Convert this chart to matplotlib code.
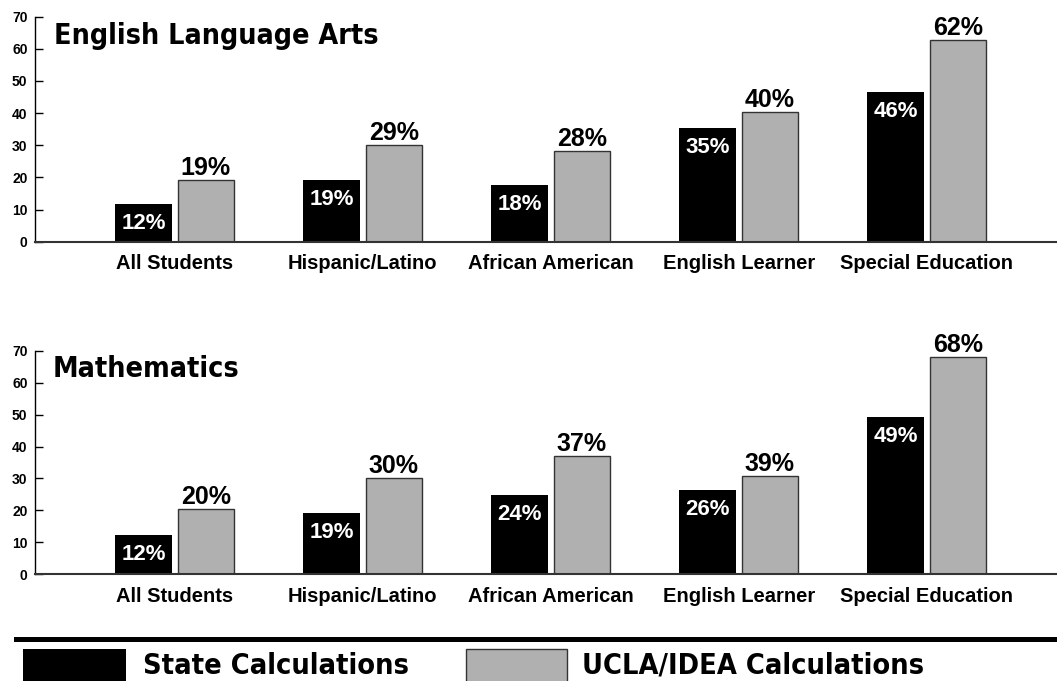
import numpy as np
import matplotlib
matplotlib.use('Agg')
import matplotlib.pyplot as plt
from matplotlib import font_manager
from matplotlib.lines import Line2D
from matplotlib.patches import Rectangle

# data
categories = ['All Students', 'Hispanic/Latino', 'African American',
              'English Learner', 'Special Education']

ela_state = [11.8, 19.2, 17.7, 35.5, 46.5]
ela_ucla = [19.2, 30.0, 28.3, 40.5, 62.6]
ela_state_labels = ['12%', '19%', '18%', '35%', '46%']
ela_ucla_labels = ['19%', '29%', '28%', '40%', '62%']

math_state = [12.3, 19.2, 24.8, 26.4, 49.3]
math_ucla = [20.3, 30.2, 36.9, 30.8, 68.0]
math_state_labels = ['12%', '19%', '24%', '26%', '49%']
math_ucla_labels = ['20%', '30%', '37%', '39%', '68%']

y_ticks = [0, 10, 20, 30, 40, 50, 60, 70]

STATE_COLOR = '#000000'
UCLA_COLOR = '#b0b0b0'
EDGE_COLOR = '#333333'
BOLD = ['Liberation Sans', 'DejaVu Sans']

W, H = 1057, 681

# condensed bold face for the big headings, if the system has one
cond = font_manager.FontProperties(family='DejaVu Sans', weight='bold',
                                   stretch='condensed')
cond_file = font_manager.findfont(cond, fallback_to_default=False)
if 'Condensed' in cond_file:
    HEAD = dict(family='DejaVu Sans', fontstretch='condensed')
    title_size, legend_size = 20.5, 20.7
else:
    HEAD = dict(family=BOLD)
    title_size, legend_size = 20.5, 20.5


def draw_panel(ax, state, ucla, state_labels, ucla_labels):
    x = np.arange(len(categories))
    ax.bar(x - 0.166, state, width=0.30, color=STATE_COLOR, linewidth=0)
    ax.bar(x + 0.166, ucla, width=0.30, color=UCLA_COLOR,
           edgecolor=EDGE_COLOR, linewidth=1.0)

    for i in range(len(categories)):
        # white value inside black bar
        ax.annotate(state_labels[i], (x[i] - 0.166, state[i]),
                    xytext=(0, -18), textcoords='offset points',
                    ha='center', va='baseline', color='white',
                    fontsize=16, fontweight='bold', family=BOLD)
        # black value on top of grey bar
        ax.annotate(ucla_labels[i], (x[i] + 0.166, ucla[i]),
                    xytext=(0, 3.6), textcoords='offset points',
                    ha='center', va='baseline', color='black',
                    fontsize=18, fontweight='bold', family=BOLD)

    ax.set_xlim(-0.745, 4.687)
    ax.set_ylim(0, 70)
    ax.set_yticks(y_ticks)
    ax.set_xticks(x)
    ax.set_xticklabels(categories, fontsize=14.5, fontweight='bold',
                       family=BOLD)
    for lab in ax.get_yticklabels():
        lab.set_fontsize(10)
        lab.set_fontweight('bold')
        lab.set_family(BOLD)

    ax.tick_params(axis='y', direction='in', length=6, width=1, pad=5)
    ax.tick_params(axis='x', length=0, pad=9)
    ax.spines['top'].set_visible(False)
    ax.spines['right'].set_visible(False)
    ax.spines['left'].set_linewidth(1.0)
    ax.spines['bottom'].set_color(EDGE_COLOR)
    ax.spines['bottom'].set_linewidth(1.5)


fig = plt.figure(figsize=(W / 100, H / 100), dpi=100)

ax1 = fig.add_axes([34.5 / W, 1 - 241.7 / H, (1056 - 34.5) / W, 225.0 / H])
draw_panel(ax1, ela_state, ela_ucla, ela_state_labels, ela_ucla_labels)
fig.text(54 / W, 1 - 44 / H, 'English Language Arts', fontsize=title_size,
         fontweight='bold', va='baseline', **HEAD)

ax2 = fig.add_axes([34.5 / W, 1 - 574.3 / H, (1056 - 34.5) / W, 223.6 / H])
draw_panel(ax2, math_state, math_ucla, math_state_labels, math_ucla_labels)
fig.text(53 / W, 1 - 377 / H, 'Mathematics', fontsize=title_size,
         fontweight='bold', va='baseline', **HEAD)

# legend strip at the bottom
fig.add_artist(Line2D([16 / W, 1.0], [1 - 639.2 / H, 1 - 639.2 / H],
                      color='black', linewidth=3.6,
                      transform=fig.transFigure))
fig.add_artist(Rectangle((22.7 / W, -0.02), 103.3 / W, 1 - 649 / H + 0.02,
                         facecolor=STATE_COLOR, edgecolor='none',
                         transform=fig.transFigure))
fig.add_artist(Rectangle((466 / W, -0.02), 100.7 / W, 1 - 649 / H + 0.02,
                         facecolor=UCLA_COLOR, edgecolor=EDGE_COLOR,
                         linewidth=1.0, transform=fig.transFigure))
fig.text(142.7 / W, 1 - 673.5 / H, 'State Calculations',
         fontsize=legend_size, fontweight='bold', va='baseline', **HEAD)
fig.text(581.7 / W, 1 - 673.5 / H, 'UCLA/IDEA Calculations',
         fontsize=legend_size, fontweight='bold', va='baseline', **HEAD)

plt.savefig('out.png', dpi=100)
